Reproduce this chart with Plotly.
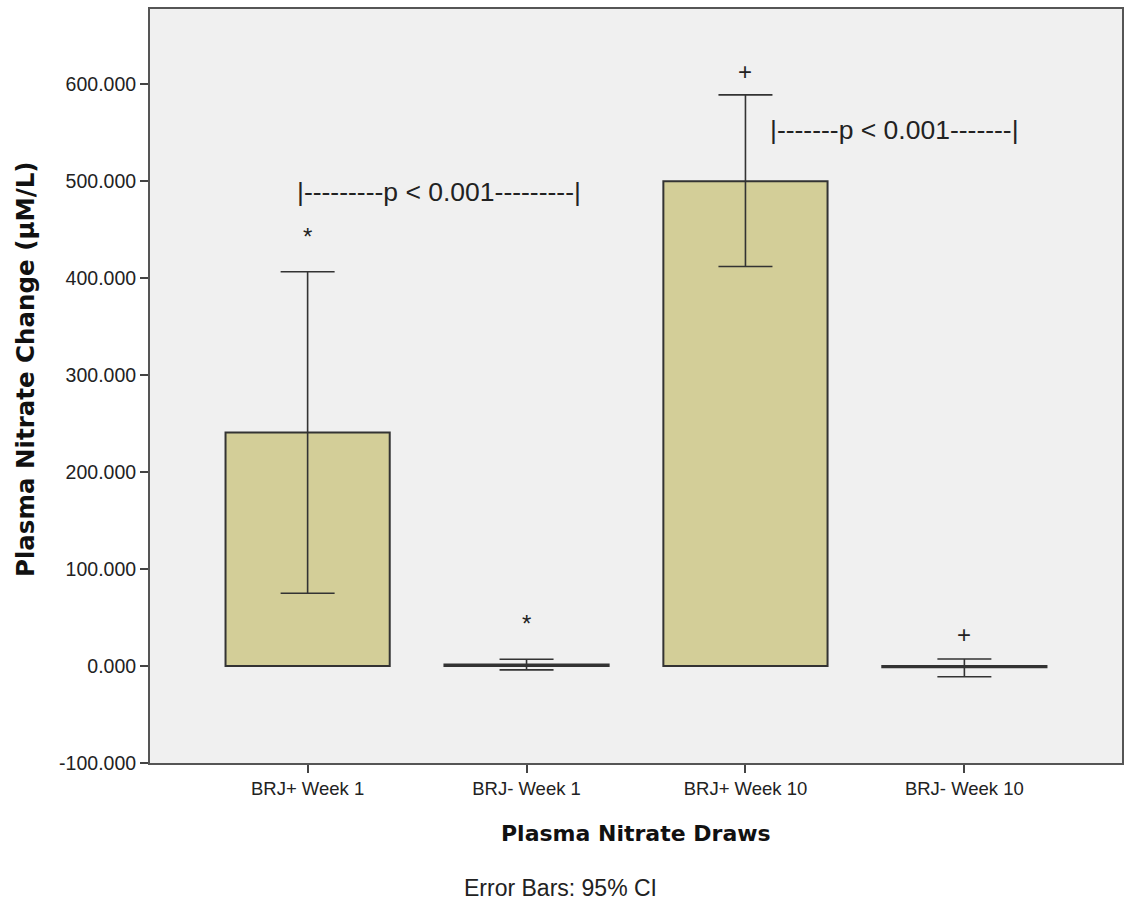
import plotly.graph_objects as go

# Plasma nitrate change per draw, with 95% confidence limits
categories = ["BRJ+ Week 1", "BRJ- Week 1", "BRJ+ Week 10", "BRJ- Week 10"]
means = [240.7, 1.5, 500.0, -1.3]
ci_upper = [406.5, 7.0, 589.0, 7.2]
ci_lower = [75.0, -4.0, 412.0, -11.0]

# significance markers above each group
marker_symbols = ["*", "*", "+", "+"]
marker_heights = [443, 44, 613, 32]

# comparison brackets: (x position, y value, label)
brackets = [
    (0.6, 489, "|---------p < 0.001---------|"),
    (2.68, 553, "|-------p < 0.001-------|"),
]

y_ticks = [-100, 0, 100, 200, 300, 400, 500, 600]
y_tick_text = [f"{v:.3f}" for v in y_ticks]

err_plus = [u - m for u, m in zip(ci_upper, means)]
err_minus = [m - l for m, l in zip(means, ci_lower)]

fig = go.Figure()
fig.add_trace(go.Bar(
    x=categories,
    y=means,
    width=0.75,
    marker=dict(color="#D3CE98", line=dict(color="#333333", width=2)),
    error_y=dict(type="data", symmetric=False, array=err_plus, arrayminus=err_minus,
                 color="#333333", thickness=1.6, width=27),
    showlegend=False,
    hoverinfo="skip",
))

sans = "Liberation Sans, Arial, sans-serif"
bold = "DejaVu Sans, Verdana, sans-serif"

annotations = []
for cat, sym, h in zip(categories, marker_symbols, marker_heights):
    annotations.append(dict(x=cat, y=h, xref="x", yref="y", text=sym, showarrow=False,
                            font=dict(family=sans, size=24, color="#222222")))
for bx, by, label in brackets:
    annotations.append(dict(x=bx, y=by, xref="x", yref="y", text=label, showarrow=False,
                            font=dict(family=sans, size=26.5, color="#222222")))

# axis titles and footnote
annotations.append(dict(x=0.5, y=0, xref="paper", yref="paper", xanchor="center", yanchor="middle",
                        yshift=-70, text="<b>Plasma Nitrate Draws</b>", showarrow=False,
                        font=dict(family=bold, size=22, color="#111111")))
annotations.append(dict(x=0, y=0.5225, xref="paper", yref="paper", xanchor="center", yanchor="middle",
                        xshift=-125, textangle=-90, text="<b>Plasma Nitrate Change (µM/L)</b>",
                        showarrow=False, font=dict(family=bold, size=24.5, color="#111111")))
annotations.append(dict(x=0.422, y=0, xref="paper", yref="paper", xanchor="center", yanchor="middle",
                        yshift=-125, text="Error Bars: 95% CI", showarrow=False,
                        font=dict(family=sans, size=23, color="#222222")))

fig.update_layout(
    width=1131, height=901,
    margin=dict(l=150, r=7, t=7, b=138),
    paper_bgcolor="white",
    plot_bgcolor="#F0F0F0",
    annotations=annotations,
    bargap=0.25,
)

fig.update_xaxes(
    type="category",
    categoryorder="array", categoryarray=categories,
    range=[-0.72, 3.72],
    showline=True, linecolor="#555555", linewidth=2, mirror=True,
    ticks="outside", ticklen=8, tickwidth=2, tickcolor="#444444",
    tickfont=dict(family=sans, size=18.5, color="#222222"),
    showgrid=False,
)
fig.update_yaxes(
    range=[-100, 677.5],
    tickvals=y_ticks, ticktext=y_tick_text,
    showline=True, linecolor="#555555", linewidth=2, mirror=True,
    ticks="outside", ticklen=8, tickwidth=2, tickcolor="#444444",
    tickfont=dict(family=sans, size=19.5, color="#222222"),
    showgrid=False, zeroline=False,
)

fig.write_html("out.html")
